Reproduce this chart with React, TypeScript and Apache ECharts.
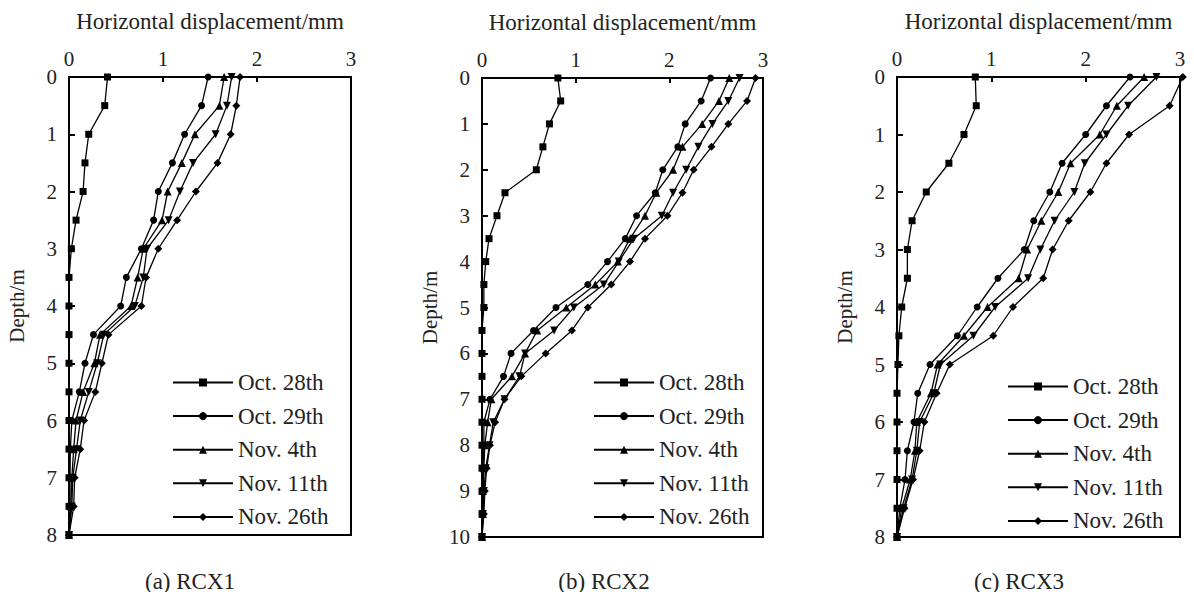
import React, { useEffect, useRef } from "react";
import * as echarts from "echarts";

const seriesNames = ["Oct. 28th", "Oct. 29th", "Nov. 4th", "Nov. 11th", "Nov. 26th"];
const symbols = ["rect", "circle", "triangle", "triangle", "diamond"];
const symbolRotates = [0, 0, 0, 180, 0];
const symbolSizes = [7, 7, 8, 8, 8];

const xTicks = [0, 1, 2, 3];
const captions = ["(a) RCX1", "(b) RCX2", "(c) RCX3"];

const depthA = [0, 0.5, 1, 1.5, 2, 2.5, 3, 3.5, 4, 4.5, 5, 5.5, 6, 6.5, 7, 7.5, 8];
const depthB = [0, 0.5, 1, 1.5, 2, 2.5, 3, 3.5, 4, 4.5, 5, 5.5, 6, 6.5, 7, 7.5, 8, 8.5, 9, 9.5, 10];
const depthC = [0, 0.5, 1, 1.5, 2, 2.5, 3, 3.5, 4, 4.5, 5, 5.5, 6, 6.5, 7, 7.5, 8];

// RCX1
const rcx1Oct28 = [0.41, 0.38, 0.21, 0.17, 0.15, 0.075, 0.025, 0.0, 0.0, 0.0, 0.0, 0.0, 0.0, 0.0, 0.0, 0.0, 0.0];
const rcx1Oct29 = [1.48, 1.41, 1.23, 1.1, 0.95, 0.9, 0.77, 0.61, 0.55, 0.26, 0.17, 0.11, 0.03, 0.015, 0.01, 0.01, 0.0];
const rcx1Nov4 = [1.65, 1.6, 1.34, 1.2, 1.05, 0.99, 0.79, 0.73, 0.66, 0.33, 0.27, 0.15, 0.075, 0.05, 0.03, 0.02, 0.0];
const rcx1Nov11 = [1.73, 1.68, 1.56, 1.32, 1.18, 1.06, 0.83, 0.79, 0.7, 0.37, 0.3, 0.21, 0.12, 0.08, 0.04, 0.03, 0.0];
const rcx1Nov26 = [1.82, 1.78, 1.72, 1.58, 1.35, 1.15, 0.95, 0.82, 0.77, 0.42, 0.35, 0.28, 0.16, 0.12, 0.06, 0.05, 0.0];

// RCX2
const rcx2Oct28 = [0.81, 0.84, 0.72, 0.65, 0.58, 0.245, 0.16, 0.075, 0.04, 0.02, 0.02, 0.0, 0.0, 0.0, 0.0, 0.0, 0.0, 0.0, 0.0, 0.0, 0.0];
const rcx2Oct29 = [2.44, 2.34, 2.17, 2.09, 1.93, 1.85, 1.65, 1.53, 1.34, 1.13, 0.79, 0.55, 0.31, 0.23, 0.085, 0.02, 0.02, 0.01, 0.01, 0.01, 0.0];
const rcx2Nov4 = [2.64, 2.53, 2.35, 2.14, 2.04, 1.86, 1.74, 1.58, 1.45, 1.21, 0.9, 0.59, 0.46, 0.32, 0.1, 0.06, 0.03, 0.02, 0.01, 0.01, 0.0];
const rcx2Nov11 = [2.75, 2.63, 2.46, 2.31, 2.18, 2.04, 1.92, 1.62, 1.46, 1.3, 0.98, 0.77, 0.46, 0.4, 0.24, 0.12, 0.08, 0.04, 0.02, 0.01, 0.0];
const rcx2Nov26 = [2.92, 2.83, 2.63, 2.45, 2.26, 2.14, 1.98, 1.74, 1.58, 1.38, 1.13, 0.96, 0.68, 0.42, 0.24, 0.14, 0.085, 0.05, 0.03, 0.02, 0.0];

// RCX3
const rcx3Oct28 = [0.83, 0.84, 0.71, 0.55, 0.31, 0.16, 0.11, 0.11, 0.05, 0.02, 0.01, 0.0, 0.0, 0.0, 0.0, 0.0, 0.0];
const rcx3Oct29 = [2.47, 2.22, 2.0, 1.75, 1.62, 1.45, 1.35, 1.07, 0.85, 0.64, 0.35, 0.22, 0.18, 0.11, 0.085, 0.03, 0.0];
const rcx3Nov4 = [2.62, 2.33, 2.15, 1.84, 1.71, 1.53, 1.38, 1.29, 0.96, 0.71, 0.43, 0.36, 0.21, 0.19, 0.14, 0.05, 0.0];
const rcx3Nov11 = [2.75, 2.45, 2.22, 1.99, 1.88, 1.67, 1.52, 1.39, 1.04, 0.81, 0.46, 0.39, 0.24, 0.21, 0.16, 0.07, 0.0];
const rcx3Nov26 = [3.03, 2.89, 2.46, 2.22, 2.05, 1.82, 1.65, 1.55, 1.23, 1.02, 0.56, 0.42, 0.29, 0.24, 0.17, 0.08, 0.0];

const panels = [
  { depths: depthA, maxDepth: 8, values: [rcx1Oct28, rcx1Oct29, rcx1Nov4, rcx1Nov11, rcx1Nov26] },
  { depths: depthB, maxDepth: 10, values: [rcx2Oct28, rcx2Oct29, rcx2Nov4, rcx2Nov11, rcx2Nov26] },
  { depths: depthC, maxDepth: 8, values: [rcx3Oct28, rcx3Oct29, rcx3Nov4, rcx3Nov11, rcx3Nov26] },
];

const FONT = "'Liberation Serif', 'Times New Roman', 'DejaVu Serif', serif";

const gridBoxes = [
  { left: 69, top: 77, width: 282, height: 458 },
  { left: 482, top: 78, width: 281, height: 459 },
  { left: 897, top: 77, width: 283, height: 460 },
];
const legendPos = [
  { left: 167, top: 366 },
  { left: 588, top: 366 },
  { left: 1002, top: 370 },
];
const captionX = [190, 604, 1019];

export default function App() {
  const ref = useRef<HTMLDivElement>(null);
  useEffect(() => {
    if (!ref.current) return;
    const chart = echarts.init(ref.current, undefined, { renderer: "svg" });
    const grids = gridBoxes.map((g) => ({
      ...g,
      show: true,
      borderColor: "#000",
      borderWidth: 2,
      backgroundColor: "transparent",
      containLabel: false,
    }));
    const xAxes = panels.map((_, i) => ({
      type: "value",
      gridIndex: i,
      position: "top",
      min: xTicks[0],
      max: xTicks[xTicks.length - 1],
      interval: 1,
      name: "Horizontal displacement/mm",
      nameLocation: "middle",
      nameGap: 44,
      nameTextStyle: { color: "#222", fontSize: 23, fontFamily: FONT },
      axisLine: { show: true, lineStyle: { color: "#000", width: 2 } },
      axisTick: { show: true, inside: true, length: 5, lineStyle: { color: "#000", width: 2 } },
      axisLabel: { color: "#222", fontSize: 21, fontFamily: FONT, margin: 8 },
      splitLine: { show: false },
    }));
    const yAxes = panels.map((p, i) => ({
      type: "value",
      gridIndex: i,
      inverse: true,
      min: 0,
      max: p.maxDepth,
      interval: 1,
      name: "Depth/m",
      nameLocation: "middle",
      nameGap: 42,
      nameTextStyle: { color: "#222", fontSize: 21, fontFamily: FONT },
      axisLine: { show: true, lineStyle: { color: "#000", width: 2 } },
      axisTick: { show: true, inside: true, length: 6, lineStyle: { color: "#000", width: 2 } },
      axisLabel: { color: "#222", fontSize: 21, fontFamily: FONT, margin: 12 },
      splitLine: { show: false },
    }));
    const series: any[] = [];
    panels.forEach((p, i) => {
      p.values.forEach((vals, k) => {
        series.push({
          type: "line",
          name: seriesNames[k],
          xAxisIndex: i,
          yAxisIndex: i,
          data: vals.map((v, j) => [v, p.depths[j]]),
          symbol: symbols[k],
          symbolRotate: symbolRotates[k],
          symbolSize: symbolSizes[k],
          showAllSymbol: true,
          clip: false,
          lineStyle: { color: "#000", width: 1.3 },
          itemStyle: { color: "#000" },
          z: 3,
        });
      });
    });
    const legends = legendPos.map((pos) => ({
      ...pos,
      orient: "vertical",
      data: seriesNames,
      itemWidth: 60,
      itemHeight: 10,
      itemGap: 10.6,
      itemTextGap: 7,
      selectedMode: false,
      textStyle: { color: "#222", fontSize: 23, fontFamily: FONT, lineHeight: 22 },
    }));
    chart.setOption({
      animation: false,
      backgroundColor: "#fff",
      grid: grids,
      xAxis: xAxes,
      yAxis: yAxes,
      legend: legends,
      series,
      graphic: captions.map((c, i) => ({
        type: "text",
        x: captionX[i],
        y: 581,
        style: {
          text: c,
          fill: "#222",
          fontSize: 23,
          fontFamily: FONT,
          textAlign: "center",
          textVerticalAlign: "middle",
        },
      })),
    });
    return () => chart.dispose();
  }, []);
  return (
    <div
      ref={ref}
      style={{ position: "fixed", left: 0, top: 0, width: 1194, height: 592, background: "#fff" }}
    />
  );
}
